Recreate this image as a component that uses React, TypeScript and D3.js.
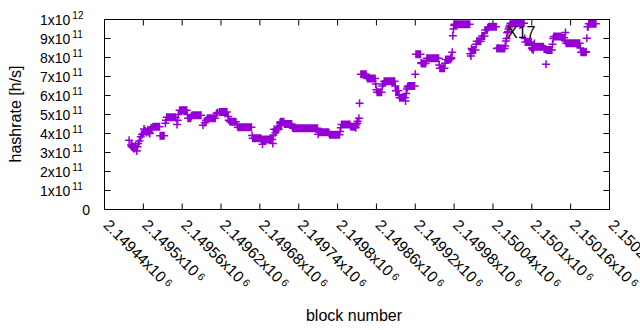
import React from "react";
import * as d3 from "d3";

// block numbers are stored as offsets from BASE_BLOCK
const BASE_BLOCK = 2149440;

// runs of equal hashrate (first block offset, last block offset, value in h/s)
const runFirst = [75, 86, 96, 116, 129, 137, 159, 178, 194, 206, 229, 245, 272, 278, 291, 332, 348, 366, 381, 396, 406, 421, 432, 450, 456, 469, 481, 490, 498, 518, 527, 541, 568, 575, 583, 588, 594, 609, 627, 650, 665, 683, 694, 707, 713, 736, 748];
const runLast = [85, 92, 109, 127, 133, 149, 171, 189, 203, 227, 241, 259, 277, 289, 329, 346, 363, 379, 387, 404, 418, 428, 448, 454, 464, 479, 488, 496, 516, 525, 534, 564, 573, 581, 587, 591, 605, 618, 648, 659, 678, 691, 705, 710, 734, 743, 759];
const runValue = [4.35e11, 3.88e11, 4.85e11, 5.22e11, 4.8e11, 4.96e11, 4.8e11, 5.13e11, 4.62e11, 4.33e11, 3.75e11, 3.69e11, 4.62e11, 4.5e11, 4.27e11, 4.06e11, 3.94e11, 4.48e11, 4.36e11, 7.12e11, 6.9e11, 6.17e11, 6.75e11, 6.25e11, 5.88e11, 6.5e11, 8.17e11, 7.68e11, 7.96e11, 7.43e11, 7.9e11, 9.75e11, 8.4e11, 8.85e11, 9.13e11, 9.45e11, 9.62e11, 8.48e11, 9.8e11, 8.82e11, 8.57e11, 8.39e11, 9.11e11, 9.04e11, 8.75e11, 8.27e11, 9.78e11];

// single blocks (block offset, value in h/s)
const singleBlock = [38, 41, 42, 43, 44, 45, 46, 47, 48, 50, 51, 52, 54, 56, 58, 60, 61, 62, 63, 65, 66, 67, 68, 69, 70, 71, 72, 73, 94, 95, 110, 112, 113, 114, 128, 134, 135, 152, 155, 157, 173, 175, 191, 192, 205, 228, 242, 243, 244, 260, 261, 262, 264, 265, 266, 267, 268, 269, 270, 271, 290, 330, 331, 347, 364, 365, 380, 388, 389, 390, 391, 393, 394, 405, 419, 420, 429, 430, 449, 455, 465, 466, 467, 468, 480, 489, 497, 517, 526, 535, 536, 537, 538, 539, 540, 565, 566, 567, 574, 582, 592, 593, 606, 608, 619, 620, 621, 622, 623, 624, 625, 626, 649, 660, 661, 662, 663, 664, 679, 680, 681, 682, 692, 693, 711, 712, 735, 744, 745, 746, 747];
const singleValue = [3.64e11, 3.4e11, 3.3e11, 3.35e11, 3.25e11, 3.3e11, 3.2e11, 3.28e11, 3.35e11, 3.08e11, 3.3e11, 3.48e11, 3.6e11, 3.83e11, 3.95e11, 4.0e11, 4.24e11, 4.1e11, 4.15e11, 4.05e11, 4.1e11, 4.2e11, 4.12e11, 4.05e11, 4.0e11, 4.2e11, 4.28e11, 4.3e11, 4.54e11, 4.7e11, 4.83e11, 4.48e11, 4.7e11, 5.0e11, 5.0e11, 4.9e11, 4.95e11, 4.43e11, 4.57e11, 4.7e11, 5.06e11, 5.1e11, 4.9e11, 4.7e11, 4.45e11, 3.9e11, 3.72e11, 3.65e11, 3.43e11, 3.48e11, 3.92e11, 4.22e11, 4.04e11, 4.18e11, 4.25e11, 4.2e11, 4.3e11, 4.22e11, 4.4e11, 4.55e11, 4.35e11, 3.96e11, 4.1e11, 4.0e11, 4.1e11, 4.3e11, 4.4e11, 4.3e11, 4.45e11, 4.54e11, 4.65e11, 4.8e11, 5.59e11, 7.0e11, 6.6e11, 6.3e11, 6.5e11, 6.6e11, 6.5e11, 6.0e11, 5.71e11, 6.1e11, 6.34e11, 6.45e11, 7.12e11, 7.73e11, 7.8e11, 7.6e11, 7.7e11, 8.0e11, 7.96e11, 8.27e11, 9.15e11, 9.5e11, 9.7e11, 8.2e11, 8.08e11, 8.48e11, 8.7e11, 9.0e11, 9.55e11, 9.6e11, 8.48e11, 8.5e11, 8.6e11, 8.87e11, 9.0e11, 9.3e11, 9.35e11, 9.5e11, 9.6e11, 9.7e11, 9.0e11, 8.48e11, 8.52e11, 8.39e11, 8.5e11, 8.74e11, 8.45e11, 8.45e11, 8.45e11, 7.64e11, 8.7e11, 9.0e11, 8.9e11, 9.32e11, 8.5e11, 8.3e11, 9.01e11, 9.62e11, 9.62e11];

const xDomain = [2149440, 2150220];
const xTickValues = [2149440, 2149500, 2149560, 2149620, 2149680, 2149740, 2149800, 2149860, 2149920, 2149980, 2150040, 2150100, 2150160, 2150220];
const xTickLabels = ["2.14944", "2.1495", "2.14956", "2.14962", "2.14968", "2.14974", "2.1498", "2.14986", "2.14992", "2.14998", "2.15004", "2.1501", "2.15016", "2.15022"];
const xTickExponent = "6";

const yTickValues = [0, 1e11, 2e11, 3e11, 4e11, 5e11, 6e11, 7e11, 8e11, 9e11, 1e12];
const yTickLabels = ["0", "1x10", "2x10", "3x10", "4x10", "5x10", "6x10", "7x10", "8x10", "9x10", "1x10"];
const yTickExponents = ["", "11", "11", "11", "11", "11", "11", "11", "11", "11", "12"];

const xLabel = "block number";
const yLabel = "hashrate [h/s]";
const annotation = "X17";

const W = 640;
const H = 330;
const PL = 104.5, PR = 609.5, PT = 19.5, PB = 209.5;
const COLOR = "#9400d3";
const FONT = "'Liberation Sans', Arial, sans-serif";

export default function App() {
  const x = d3.scaleLinear().domain(xDomain).range([PL, PR]);
  const y = d3.scaleLinear().domain([0, 1e12]).range([PB, PT]);

  const pts: [number, number][] = [];
  runFirst.forEach((f, i) => {
    for (let b = f; b <= runLast[i]; b++) pts.push([BASE_BLOCK + b, runValue[i]]);
  });
  singleBlock.forEach((b, i) => pts.push([BASE_BLOCK + b, singleValue[i]]));

  const s = 4;
  const path = pts
    .map(([b, v]) => {
      const px = x(b), py = y(v);
      return `M${px - s},${py}H${px + s}M${px},${py - s}V${py + s}`;
    })
    .join("");

  const tick = 6;

  return (
    <svg width={W} height={H} style={{ position: "fixed", left: 0, top: 0, background: "#fff" }} fontFamily={FONT}>
      <rect x={0} y={0} width={W} height={H} fill="#fff" />
      {/* ticks */}
      <g stroke="#000" strokeWidth={1}>
        {yTickValues.map((v, i) => (
          <g key={"yt" + i}>
            <line x1={PL} x2={PL + tick} y1={y(v)} y2={y(v)} />
            <line x1={PR} x2={PR - tick} y1={y(v)} y2={y(v)} />
          </g>
        ))}
        {xTickValues.map((v, i) => (
          <g key={"xt" + i}>
            <line x1={x(v)} x2={x(v)} y1={PB} y2={PB - tick} />
            <line x1={x(v)} x2={x(v)} y1={PT} y2={PT + tick} />
          </g>
        ))}
      </g>
      {/* y tick labels */}
      <g fontSize={14} fill="#000">
        {yTickValues.map((v, i) =>
          yTickExponents[i] === "" ? (
            <text key={"yl" + i} x={90} y={y(v) + 5} textAnchor="end">{yTickLabels[i]}</text>
          ) : (
            <text key={"yl" + i} x={40} y={y(v) + 5}>
              {yTickLabels[i]}
              <tspan dx={2} dy={-6} fontSize={10}>{yTickExponents[i]}</tspan>
            </text>
          )
        )}
      </g>
      {/* x tick labels */}
      <g fontSize={15.5} fill="#000">
        {xTickValues.map((v, i) => (
          <text key={"xl" + i} transform={`translate(${x(v) - 2},${226}) rotate(45)`}>
            {xTickLabels[i]}x10
            <tspan dx={3} dy={-3} fontSize={10.5}>{xTickExponent}</tspan>
          </text>
        ))}
      </g>
      {/* data */}
      <path d={path} stroke={COLOR} strokeWidth={1.5} fill="none" />
      {/* border */}
      <rect x={PL} y={PT} width={PR - PL} height={PB - PT} fill="none" stroke="#000" strokeWidth={1} />
      <text x={507} y={38} fontSize={16} fill="#000">{annotation}</text>
      <text x={354} y={321} fontSize={16} textAnchor="middle" fill="#000">{xLabel}</text>
      <text transform={`translate(21,114) rotate(-90)`} fontSize={16} textAnchor="middle" fill="#000">{yLabel}</text>
    </svg>
  );
}
